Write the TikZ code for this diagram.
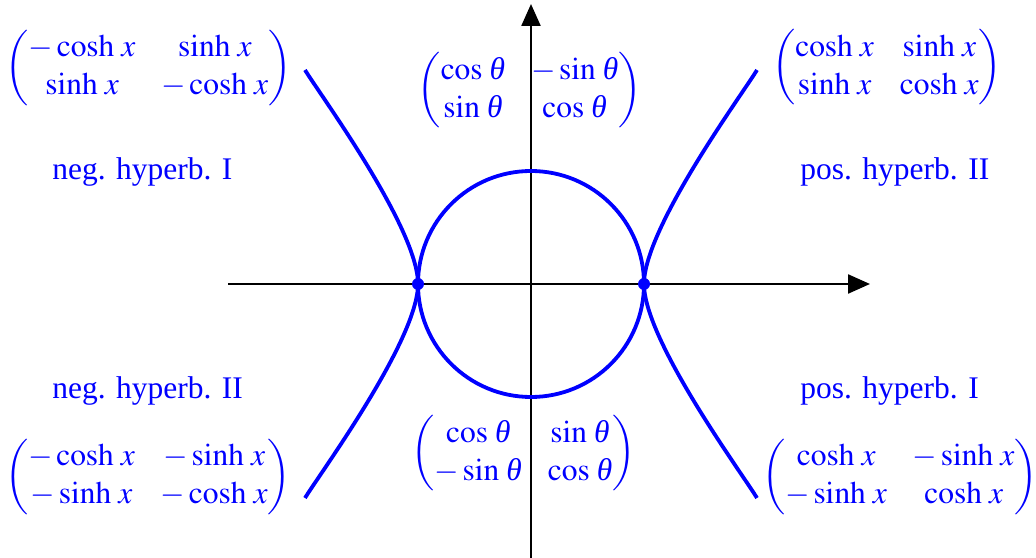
\documentclass[tikz,border=0pt]{standalone}
\usepackage{amsmath}
\usepackage{mathptmx}
\usepackage{fontspec}
\setmainfont{Liberation Serif}
\usetikzlibrary{arrows.meta}
\definecolor{cblue}{RGB}{0,0,255}
\tikzset{
  axis/.style={line width=1.2bp, black, -{Triangle[length=11bp,width=9.5bp]}},
  curve/.style={line width=1.9bp, cblue},
  mat/.style={inner sep=0pt, text=cblue, font=\fontsize{15.8pt}{19.2pt}\selectfont},
  lbl/.style={inner sep=0pt, anchor=west, text=cblue, font=\fontsize{15.8pt}{19.2pt}\selectfont},
  dotn/.style={circle, fill=cblue, inner sep=0pt, minimum size=6bp}
}
\newcommand{\mminus}{-}
\newcommand{\thet}{\mathord{\text{\itshape θ}}}
\newcommand{\ch}{\cosh\,x}
\newcommand{\sh}{\sinh\,x}
\newcommand{\ct}{\cos\,\thet}
\newcommand{\st}{\sin\,\thet}
\begin{document}
\begin{tikzpicture}[x=0.5bp,y=-0.5bp]
\useasboundingbox (0,0) rectangle (1036,558);
% axes
\coordinate (xs) at (228,284);
\coordinate (xe) at (870,284);
\coordinate (ys) at (531,558);
\coordinate (ye) at (531,4);
\coordinate (O) at (531,284);
\draw[axis] (xs) -- (xe);
\draw[axis] (ys) -- (ye);
% circle
\draw[curve] (O) circle[radius=113];
% hyperbola branches
\begin{scope}[shift={(531,284)}]
\draw[curve] (226,-214) .. controls (211.4,-190) and (113,-56) .. (113,0) .. controls (113,56) and (211.4,190) .. (226,214);
\draw[curve] (-226,-214) .. controls (-211.4,-190) and (-113,-56) .. (-113,0) .. controls (-113,56) and (-211.4,190) .. (-226,214);
\end{scope}
\node[dotn] (dl) at (418,284) {};
\node[dotn] (dr) at (644,284) {};
% matrices
\node[mat] (tl) at (148.5,68) {$\arraycolsep=6.5pt\begin{pmatrix} \mminus\ch & \sh\\ \sh & \mminus\ch\end{pmatrix}$};
\node[mat] (tr) at (887,67.5) {$\arraycolsep=6.5pt\begin{pmatrix} \ch & \sh\\ \sh & \ch\end{pmatrix}$};
\node[mat] (bl) at (148,477) {$\arraycolsep=6.5pt\begin{pmatrix} \mminus\ch & \mminus\sh\\ \mminus\sh & \mminus\ch\end{pmatrix}$};
\node[mat] (br) at (900,477) {$\arraycolsep=6.5pt\begin{pmatrix} \ch & \mminus\sh\\ \mminus\sh & \ch\end{pmatrix}$};
\node[mat] (tm) at (529.5,90.5) {$\arraycolsep=6.5pt\begin{pmatrix} \ct & \mminus\st\\ \st & \ct\end{pmatrix}$};
\node[mat] (bm) at (523.5,453.5) {$\arraycolsep=6.5pt\begin{pmatrix} \ct & \st\\ \mminus\st & \ct\end{pmatrix}$};
% labels
\node[lbl] (l1) at (52,172) {neg. hyperb. I};
\node[lbl] (l2) at (800,172) {pos. hyperb. II};
\node[lbl] (l3) at (52,391) {neg. hyperb. II};
\node[lbl] (l4) at (800,391) {pos. hyperb. I};
\end{tikzpicture}
\end{document}
